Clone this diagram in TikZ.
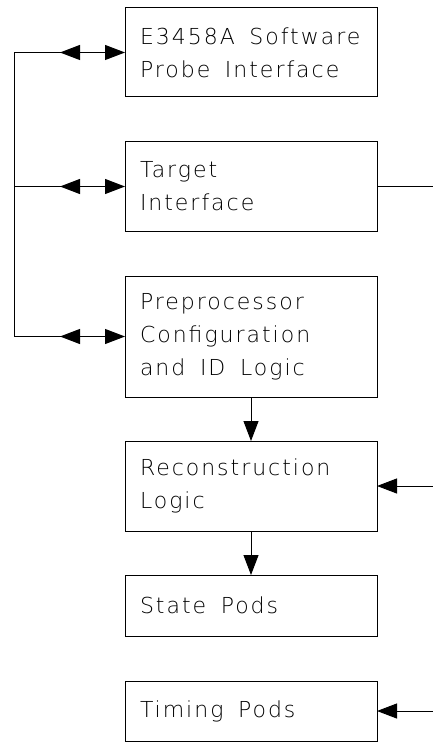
\documentclass[tikz,border=0pt]{standalone}
\usepackage{fontspec}
\newfontfamily\plotfont{DejaVu Sans ExtraLight}[LetterSpace=9]
\usetikzlibrary{arrows.meta,positioning,decorations.markings}

\begin{document}
\begin{tikzpicture}[
        x=1pt, y=1pt,
        node distance=45pt,
        block/.style={
            rectangle,
            draw,
            line width=1pt,
            outer sep=0pt,
            text width=222pt,
            inner xsep=15pt,
            inner ysep=0pt,
            align=left,
            font=\plotfont\fontsize{22}{33}\selectfont
        },
        line/.style={draw, line width=1pt},
        arrow/.style={line, -{Triangle[length=20pt,width=15pt]}},
        duplex/.style={
            arrow,
            postaction={decorate},
            decoration={markings,
                mark=at position 46pt with {\arrowreversed{Triangle[length=20pt,width=15pt]}}}
        }
    ]
        \useasboundingbox (0,0) rectangle (433,-746);

        % -- Nodes --
        \node [block, minimum height=89pt, anchor=north west] (probe) at (125,-8) {E3458A\ \ Software\\Probe\ \ Interface};
        \node [block, minimum height=89pt, below=of probe] (target) {Target\\Interface};
        \node [block, minimum height=121pt, below=of target] (config) {Preprocessor\\Configuration\\and\ \ ID\ \ Logic};
        \node [block, minimum height=90pt, below=44pt of config] (recon) {Reconstruction\\Logic};
        \node [block, minimum height=61pt, below=44pt of recon] (state) {State\ \ Pods};
        \node [block, minimum height=60pt, below=of state] (timing) {Timing\ \ Pods};

        % bus on the left, open ends on the right
        \coordinate (bus) at (14,0);
        \coordinate (rim) at (433,0);
        \coordinate (bus_top) at (probe.west -| bus);
        \coordinate (bus_mid) at (target.west -| bus);
        \coordinate (bus_bot) at (config.west -| bus);
        \coordinate (tgt_out) at (target.east -| rim);
        \coordinate (recon_in) at (recon.east -| rim);
        \coordinate (timing_in) at (timing.east -| rim);

        % -- Paths --
        \path [line] (bus_top) -- (bus_bot);
        \path [duplex] (bus_top) -- (probe.west);
        \path [duplex] (bus_mid) -- (target.west);
        \path [duplex] (bus_bot) -- (config.west);

        \path [line] (target.east) -- (tgt_out);
        \path [arrow] (recon_in) -- (recon.east);
        \path [arrow] (timing_in) -- (timing.east);

        \path [arrow] (config) -- (recon);
        \path [arrow] (recon) -- (state);

    \end{tikzpicture}
\end{document}
